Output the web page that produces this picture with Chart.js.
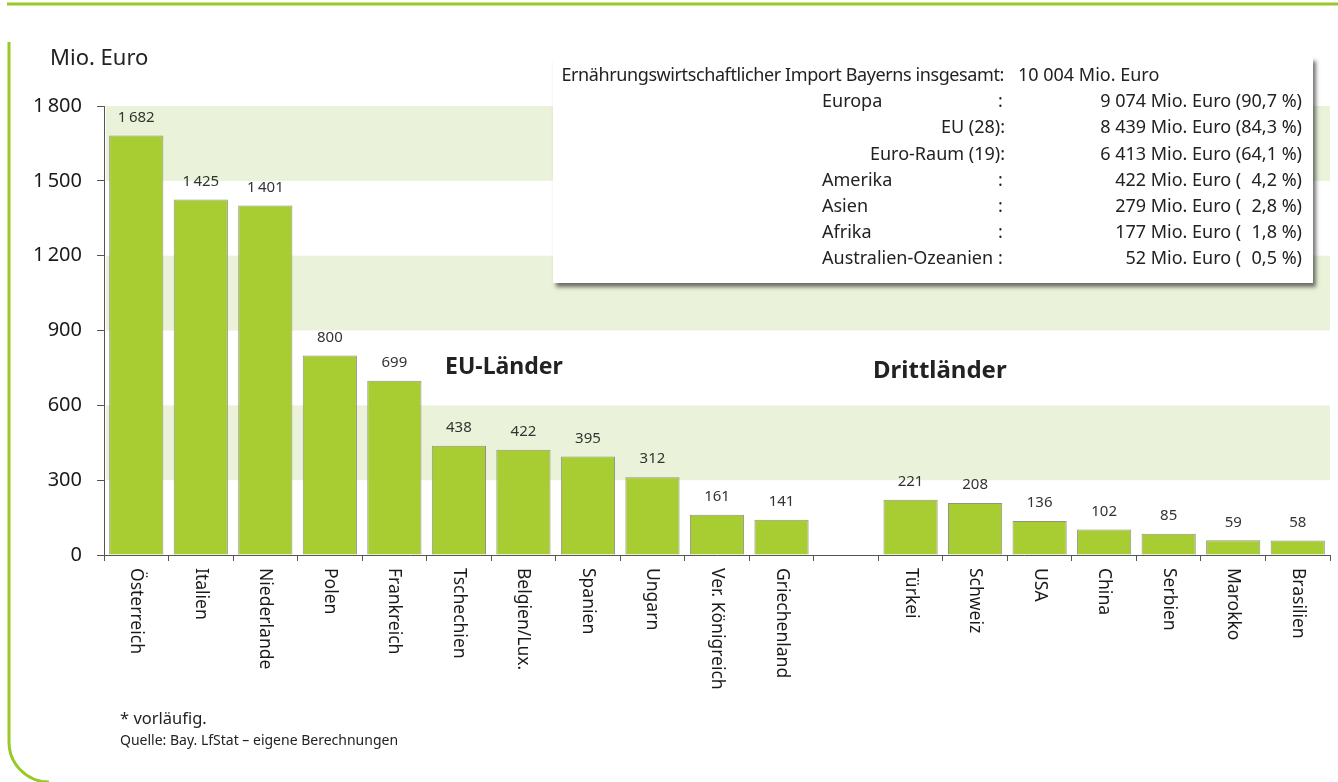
<!DOCTYPE html>
<html lang="de">
<head>
<meta charset="utf-8">
<title>Ernährungswirtschaftlicher Import Bayerns</title>
<script src="https://cdn.jsdelivr.net/npm/chart.js@4/dist/chart.umd.min.js"></script>
<style>
  html, body { margin: 0; padding: 0; background: #fff; }
  #wrap { position: relative; width: 1338px; height: 782px; overflow: hidden; font-family: "Noto Sans", "Open Sans", sans-serif; color: #222; }
  #c { position: absolute; left: 0; top: 0; }
  .t { position: absolute; white-space: nowrap; line-height: 1; }
  #frame { position: absolute; left: 0; top: 0; pointer-events: none; }
  #box { position: absolute; left: 553px; top: 57px; width: 760px; height: 226px; background: #fff; box-shadow: 3px 4px 4px rgba(0,0,0,.55); }
  .bx { position: absolute; white-space: pre; font-size: 18px; line-height: 1; transform: translateY(-50%); }
</style>
</head>
<body>
<div id="wrap">
  <svg id="frame" width="1338" height="782">
    <line x1="7" y1="4" x2="1338" y2="4" stroke="#9bc829" stroke-width="3"/>
    <path d="M9 42 V742 A40 40 0 0 0 49 782" fill="none" stroke="#9bc829" stroke-width="3"/>
  </svg>
  <canvas id="c" width="1338" height="782"></canvas>
  <div class="t" style="left:50px; top:45px; font-size:22px;">Mio. Euro</div>
  <div class="t" style="left:445px; top:354px; font-size:23px; font-weight:bold;">EU-Länder</div>
  <div class="t" style="left:873px; top:357px; font-size:24px; font-weight:bold;">Drittländer</div>
  <div class="t" style="left:120px; top:710px; font-size:16.5px;">* vorläufig.</div>
  <div class="t" style="left:120px; top:733px; font-size:14px;">Quelle: Bay. LfStat – eigene Berechnungen</div>
  <div id="box"></div>
</div>
<script>
// Werte aus der Grafik (Mio. Euro)
const euLaender = ['Österreich', 'Italien', 'Niederlande', 'Polen', 'Frankreich', 'Tschechien', 'Belgien/Lux.', 'Spanien', 'Ungarn', 'Ver. Königreich', 'Griechenland'];
const euWerte = [1682, 1425, 1401, 800, 699, 438, 422, 395, 312, 161, 141];
const drittLaender = ['Türkei', 'Schweiz', 'USA', 'China', 'Serbien', 'Marokko', 'Brasilien'];
const drittWerte = [221, 208, 136, 102, 85, 59, 58];
const yTicks = [0, 300, 600, 900, 1200, 1500, 1800];
const baender = [[300, 600], [900, 1200], [1500, 1800]];

// Infobox
const boxZeilen = [
  ['Ernährungswirtschaftlicher Import Bayerns insgesamt:', '', '10 004 Mio. Euro'],
  ['Europa', ':', '9 074 Mio. Euro (90,7 %)'],
  ['EU (28):', '', '8 439 Mio. Euro (84,3 %)'],
  ['Euro-Raum (19):', '', '6 413 Mio. Euro (64,1 %)'],
  ['Amerika', ':', '422 Mio. Euro (\u20074,2 %)'],
  ['Asien', ':', '279 Mio. Euro (\u20072,8 %)'],
  ['Afrika', ':', '177 Mio. Euro (\u20071,8 %)'],
  ['Australien-Ozeanien', ':', '52 Mio. Euro (\u20070,5 %)'],
];

const labels = [...euLaender, '', ...drittLaender];
const values = [...euWerte, null, ...drittWerte];
const FONT = '"Noto Sans", "Open Sans", sans-serif';
const fmt = (v) => { const s = String(v); return s.length > 3 ? s.slice(0, -3) + '\u2009' + s.slice(-3) : s; };

// Box aufbauen
const box = document.getElementById('box');
boxZeilen.forEach(([lab, colon, val], i) => {
  const y = 17 + i * 26.2;
  const add = (txt, css) => { const d = document.createElement('div'); d.className = 'bx'; d.textContent = txt; d.style.cssText += css + 'top:' + y + 'px;'; box.appendChild(d); };
  if (i === 0) {
    add(lab, 'right:' + (760 - 451) + 'px; letter-spacing:-0.4px;');
    add(val, 'left:465px;');
  } else if (colon) {
    add(lab, 'left:269px;');
    add(colon, 'left:445px;');
    add(val, 'right:11px;');
  } else {
    add(lab, 'right:' + (760 - 452) + 'px;');
    add(val, 'right:11px;');
  }
});

const baenderPlugin = {
  id: 'baender',
  beforeDraw(chart) {
    const { ctx, chartArea: a, scales: { y } } = chart;
    ctx.save();
    ctx.fillStyle = '#eaf3d9';
    baender.forEach(([lo, hi]) => {
      const y1 = y.getPixelForValue(hi), y0 = y.getPixelForValue(lo);
      ctx.fillRect(a.left + 2, y1, a.right - a.left - 2, y0 - y1);
    });
    ctx.restore();
  }
};

const werteLabels = {
  id: 'werteLabels',
  afterDatasetsDraw(chart) {
    const { ctx } = chart;
    const meta = chart.getDatasetMeta(0);
    ctx.save();
    ctx.font = '15px ' + FONT;
    ctx.fillStyle = '#333';
    ctx.textAlign = 'center';
    ctx.textBaseline = 'middle';
    meta.data.forEach((bar, i) => {
      if (values[i] == null) return;
      ctx.fillText(fmt(values[i]), bar.x, bar.y - 18);
    });
    ctx.restore();
  }
};

const xLabels = {
  id: 'xLabels',
  afterDraw(chart) {
    const { ctx, chartArea: a, scales: { x } } = chart;
    ctx.save();
    ctx.font = '17.5px ' + FONT;
    ctx.fillStyle = '#1a1a1a';
    ctx.textAlign = 'left';
    ctx.textBaseline = 'middle';
    labels.forEach((l, i) => {
      if (!l) return;
      ctx.save();
      ctx.translate(x.getPixelForValue(i), a.bottom + 13);
      ctx.rotate(Math.PI / 2);
      ctx.fillText(l, 0, 0);
      ctx.restore();
    });
    ctx.restore();
  }
};

new Chart(document.getElementById('c'), {
  type: 'bar',
  data: {
    labels,
    datasets: [{
      data: values,
      backgroundColor: '#a8cd33',
      borderColor: '#8e9488',
      borderWidth: 1,
      barPercentage: 0.84,
      categoryPercentage: 1,
    }],
  },
  options: {
    responsive: false, animation: false,
    layout: { padding: { left: 0, right: 8, top: 106, bottom: 0 } },
    plugins: { legend: { display: false }, tooltip: { enabled: false } },
    scales: {
      x: {
        offset: true,
        grid: { offset: true, drawOnChartArea: false, tickLength: 6, color: '#555' },
        border: { color: '#555' },
        ticks: { display: false },
        afterFit(s) { s.height = 227; },
      },
      y: {
        min: 0, max: 1800,
        afterBuildTicks(s) { s.ticks = yTicks.map(v => ({ value: v })); },
        grid: { drawOnChartArea: false, tickLength: 7, color: '#555' },
        border: { color: '#555' },
        ticks: { padding: 15, color: '#1a1a1a', font: { size: 20, family: FONT }, callback: (v) => fmt(v) },
        afterFit(s) { s.width = 104; },
      },
    },
  },
  plugins: [baenderPlugin, werteLabels, xLabels],
});
</script>
</body>
</html>
